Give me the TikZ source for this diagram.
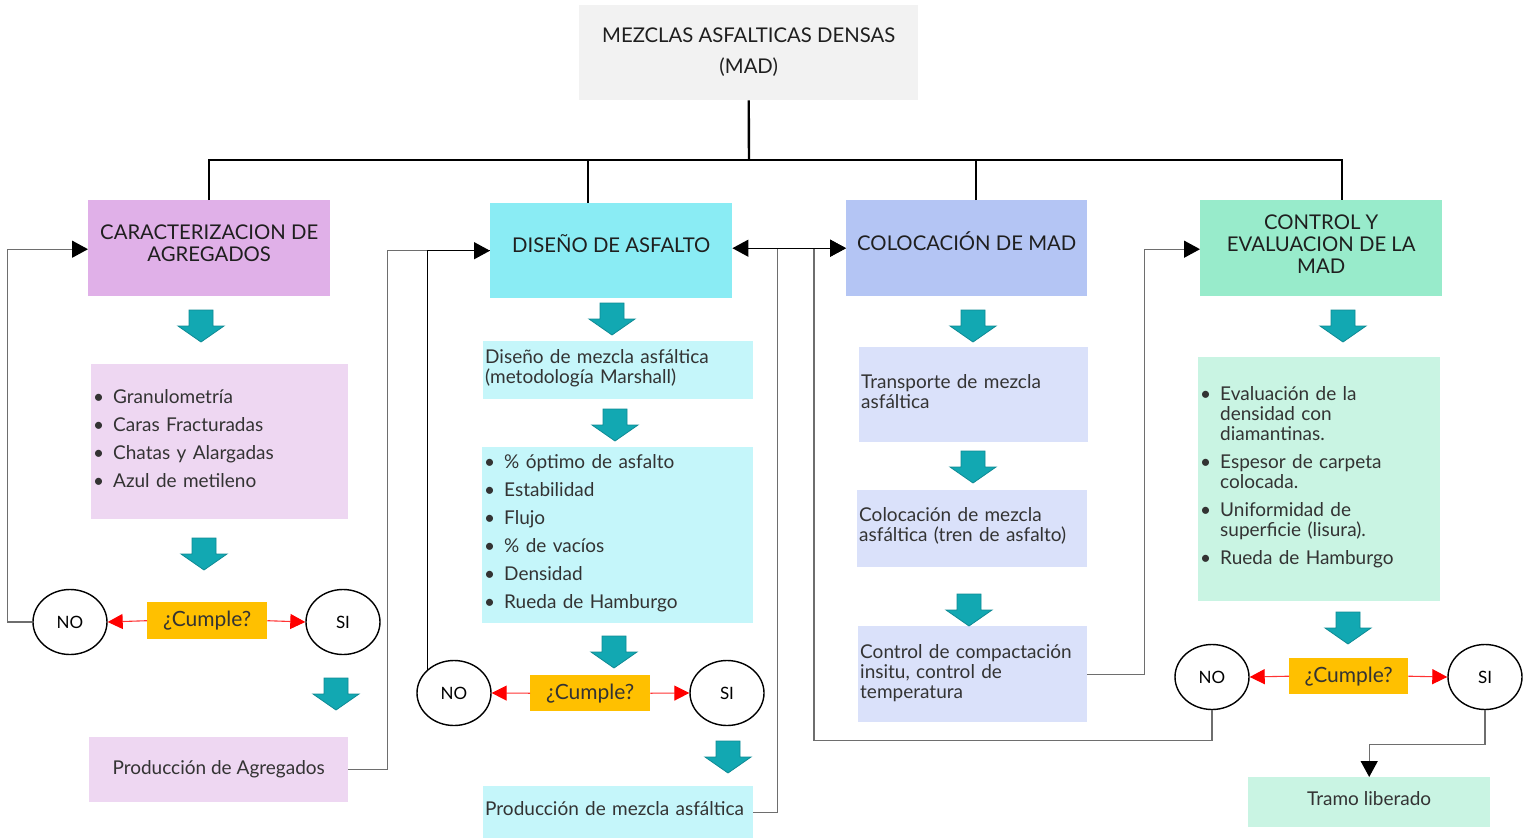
\documentclass[tikz,border=0pt]{standalone}
\usepackage{fontspec}
\setmainfont{Lato}
\usetikzlibrary{arrows.meta,shapes.geometric}
\definecolor{topgray}{HTML}{F2F2F2}
\definecolor{carH}{HTML}{E0B0E8}
\definecolor{carL}{HTML}{EED7F2}
\definecolor{disH}{HTML}{8AECF4}
\definecolor{disL}{HTML}{C5F6FA}
\definecolor{colH}{HTML}{B4C5F4}
\definecolor{colL}{HTML}{DAE1FA}
\definecolor{ctrH}{HTML}{98EBCB}
\definecolor{ctrL}{HTML}{C9F4E3}
\definecolor{cumple}{HTML}{FFC000}
\definecolor{tealF}{HTML}{12A8B2}
\definecolor{tealD}{HTML}{0E8A94}
\definecolor{txt}{HTML}{333333}
\definecolor{conng}{HTML}{6E6E6E}
\newcommand\bul{\makebox[20pt][l]{•}}
\newcommand\ind{\hspace*{20pt}}
\newcommand\bsp[1]{\par\vspace*{#1}}
\newcommand\downarr[2]{\filldraw[tealarr] (#1-12,#2) -- ++(24,0) -- ++(0,16) -- ++(11,0) -- (#1,#2+32) -- ++(-23,-16) -- ++(11,0) -- cycle;}
\begin{document}
\begin{tikzpicture}[x=1pt,y=-1pt,
  box/.style={anchor=north west, inner sep=0pt, align=center, text=txt},
  hdr/.style={box, font=\fontsize{20.3}{22}\selectfont, text=black!88},
  sub/.style={anchor=north west, inner xsep=2pt, inner ysep=0pt, align=left, text=txt, font=\fontsize{19}{20}\selectfont},
  yes/.style={ellipse, draw=black, line width=1.4pt, minimum width=74pt, minimum height=65pt, inner sep=0pt, font=\fontsize{17}{18}\selectfont},
  cum/.style={box, fill=cumple, font=\fontsize{21}{22}\selectfont, text=black!80},
  tree/.style={line width=2.4pt, black},
  conn/.style={line width=1.4pt, conng},
  connb/.style={line width=1.3pt, black},
  blk/.style={-{Triangle[length=16pt,width=17pt,color=black]}},
  redarr/.style={line width=1.1pt, red!80!white, -{Triangle[length=15pt,width=15pt,color=red]}},
  tealarr/.style={fill=tealF, draw=tealD, line width=0.8pt}
]
\useasboundingbox (0,0) rectangle (1523,838);

% header boxes
\node[hdr, fill=topgray, minimum width=339pt, minimum height=95pt, font=\fontsize{20.3}{31}\selectfont] (top) at (579,5) {MEZCLAS ASFALTICAS DENSAS\\(MAD)\\[-27pt]};
\node[hdr, fill=carH, minimum width=242pt, minimum height=96pt] (car) at (88,200) {CARACTERIZACION DE\\AGREGADOS\\[-12pt]};
\node[hdr, fill=disH, minimum width=242pt, minimum height=95pt] (dis) at (490,203) {DISEÑO DE ASFALTO\\[-8pt]};
\node[hdr, fill=colH, minimum width=241pt, minimum height=96pt] (col) at (846,200) {COLOCACIÓN DE MAD\\[-8pt]};
\node[hdr, fill=ctrH, minimum width=242pt, minimum height=96pt] (ctr) at (1200,200) {CONTROL Y\\EVALUACION DE LA\\MAD\\[-14pt]};

% tree
\coordinate (bus) at (749,160);
\draw[tree] (top.south) -- (bus);
\draw[tree] (car.north) |- (bus) -| ([xshift=21pt]ctr.north);
\draw[tree] ([xshift=-23pt]dis.north) -- ([xshift=-23pt]dis.north |- bus);
\draw[tree] ([xshift=9pt]col.north) -- ([xshift=9pt]col.north |- bus);

% Caracterizacion column
\node[sub, fill=carL, minimum height=155pt, text width=253pt] (carlist) at (91,364)
 {\bul Granulometría\\[8pt]\bul Caras Fracturadas\\[8pt]\bul Chatas y Alargadas\\[8pt]\bul Azul de metileno\bsp{6pt}};
\node[cum, minimum width=120pt, minimum height=37pt] (cu1) at (147,602) {¿Cumple?};
\node[yes] (no1) at (70,622) {NO};
\node[yes] (si1) at (343,622) {SI};
\node[box, fill=carL, minimum width=259pt, minimum height=65pt, font=\fontsize{19}{20}\selectfont] (prodag) at (89,737) {Producción de Agregados};

% Diseno column
\node[sub, fill=disL, minimum height=58pt, text width=266pt] (dis1) at (483,341) {Diseño de mezcla asfáltica\\(metodología Marshall)\bsp{4pt}};
\node[sub, fill=disL, minimum height=176pt, text width=267pt] (dislist) at (482,447)
 {\bul \% óptimo de asfalto\\[8pt]\bul Estabilidad\\[8pt]\bul Flujo\\[8pt]\bul \% de vacíos\\[8pt]\bul Densidad\\[8pt]\bul Rueda de Hamburgo\bsp{4pt}};
\node[cum, minimum width=120pt, minimum height=36pt] (cu2) at (530,675) {¿Cumple?};
\node[yes] (no2) at (454,693) {NO};
\node[yes] (si2) at (727,693) {SI};
\node[sub, fill=disL, minimum height=52pt, text width=266pt] (prodmez) at (483,786) {Producción de mezcla asfáltica\bsp{8pt}};

% Colocacion column
\node[sub, fill=colL, minimum height=95pt, text width=225pt] (col1) at (859,347) {Transporte de mezcla\\asfáltica\bsp{6pt}};
\node[sub, fill=colL, minimum height=77pt, text width=226pt] (col2) at (857,490) {Colocación de mezcla\\asfáltica (tren de asfalto)\bsp{6pt}};
\node[sub, fill=colL, minimum height=96pt, text width=225pt] (col3) at (858,626) {Control de compactación\\insitu, control de\\temperatura\bsp{2pt}};

% Control column
\node[sub, fill=ctrL, minimum height=244pt, text width=238pt] (ctrlist) at (1198,357)
 {\bul Evaluación de la\\\ind densidad con\\\ind diamantinas.\\[8pt]\bul Espesor de carpeta\\\ind colocada.\\[8pt]\bul Uniformidad de\\\ind superficie (lisura).\\[8pt]\bul Rueda de Hamburgo\bsp{4pt}};
\node[cum, minimum width=119pt, minimum height=36pt] (cu3) at (1289,658) {¿Cumple?};
\node[yes] (no3) at (1212,677) {NO};
\node[yes] (si3) at (1485,677) {SI};
\node[box, fill=ctrL, minimum width=242pt, minimum height=50pt, font=\fontsize{19}{20}\selectfont] (tramo) at (1248,777) {Tramo liberado\\[-12pt]};

% teal block arrows
\downarr{201}{310}
\downarr{612}{303}
\downarr{973}{310}
\downarr{1343}{310}
\downarr{204}{538}
\downarr{615}{409}
\downarr{614}{636}
\downarr{973}{451}
\downarr{969}{594}
\downarr{336}{678}
\downarr{728}{741}
\downarr{1348}{612}

% red decision arrows
\draw[redarr] (cu1.west) -- (no1.east);
\draw[redarr] (cu1.east) -- (si1.west);
\draw[redarr] (cu2.west) -- (no2.east);
\draw[redarr] (cu2.east) -- (si2.west);
\draw[redarr] (cu3.west) -- (no3.east);
\draw[redarr] (cu3.east) -- (si3.west);

% connectors
\draw[conn, blk] (no1.west) -- ++(-25,0) |- ([yshift=-1pt]car.west);
\draw[conn, blk] (prodag.east) -- ++(39,0) |- (dis.west);
\draw[connb] (no2.north west) |- (dis.west);
\draw[conn] (no3.south) -- ++(0,30) -| ([xshift=-32pt]col.west);
\draw[conn, blk] (prodmez.east) -- ++(24,0) |- (col.west);
\draw[connb, {Triangle[length=16pt,width=17pt,color=black]}-{Triangle[length=16pt,width=17pt,color=black]}] (dis.east |- col.west) -- (col.west);
\draw[conn, blk] (col3.east) -- ++(57,0) |- ([yshift=-1pt]ctr.west);
\draw[conn, blk] (si3.south) -- ++(0,34) -| (tramo.north);
\end{tikzpicture}
\end{document}
